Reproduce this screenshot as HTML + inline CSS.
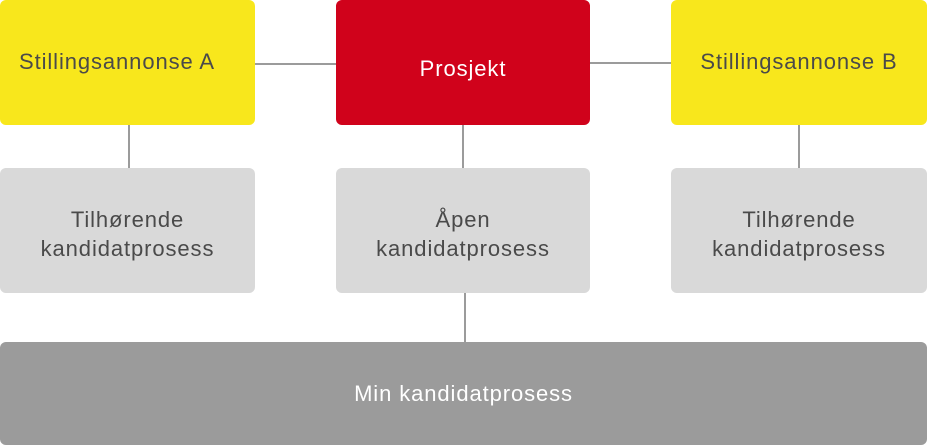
<!DOCTYPE html>
<html><head><meta charset="utf-8"><style>
body{margin:0;width:927px;height:445px;background:#fff;position:relative;overflow:hidden;font-family:"Liberation Sans",Helvetica,Arial,sans-serif;}
.b{position:absolute;border-radius:6px;display:flex;align-items:center;justify-content:center;text-align:center;font-size:22px;letter-spacing:0.9px;line-height:29px;color:#4a4a4a;}
.y{background:#f8e71c;}
.r{background:#d0021b;color:#fff;}
.g{background:#d9d9d9;}
.d{background:#9b9b9b;color:#fff;}
.l{position:absolute;background:#9b9b9b;}
</style></head><body>
<div class="l" style="left:255px;top:63px;width:81px;height:2px"></div>
<div class="l" style="left:590px;top:62px;width:81px;height:2px"></div>
<div class="l" style="left:128px;top:125px;width:2px;height:43px"></div>
<div class="l" style="left:462px;top:125px;width:2px;height:43px"></div>
<div class="l" style="left:798px;top:125px;width:2px;height:43px"></div>
<div class="l" style="left:464px;top:293px;width:2px;height:49px"></div>

<div class="b y" style="left:0;top:0;width:255px;height:125px;justify-content:flex-start;padding-left:19px;box-sizing:border-box;padding-bottom:3px">Stillingsannonse A</div>
<div class="b r" style="left:336px;top:0;width:254px;height:125px;padding-top:12px;box-sizing:border-box">Prosjekt</div>
<div class="b y" style="left:671px;top:0;width:256px;height:125px;padding-bottom:3px;box-sizing:border-box">Stillingsannonse B</div>

<div class="b g" style="left:0;top:168px;width:255px;height:125px;padding-top:6px;box-sizing:border-box">Tilhørende<br>kandidatprosess</div>
<div class="b g" style="left:336px;top:168px;width:254px;height:125px;padding-top:6px;box-sizing:border-box">Åpen<br>kandidatprosess</div>
<div class="b g" style="left:671px;top:168px;width:256px;height:125px;padding-top:6px;box-sizing:border-box">Tilhørende<br>kandidatprosess</div>

<div class="b d" style="left:0;top:342px;width:927px;height:103px">Min kandidatprosess</div>
</body></html>
